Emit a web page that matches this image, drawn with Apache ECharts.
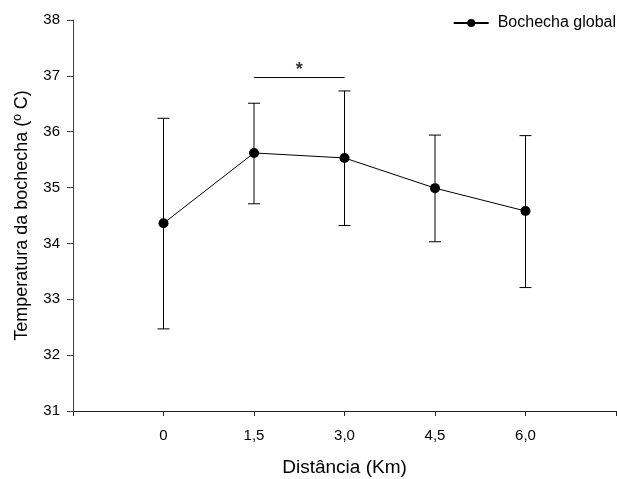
<!DOCTYPE html>
<html>
<head>
<meta charset="utf-8">
<script src="https://cdn.jsdelivr.net/npm/echarts@6/dist/echarts.min.js"></script>
<style>
  html, body { margin: 0; padding: 0; background: #fff; }
  #chart { width: 617px; height: 479px; }
</style>
</head>
<body>
<div id="chart"></div>
<script>
// distancias (km) e temperatura media com erro
var distancias = [0, 1.5, 3.0, 4.5, 6.0];
var medias = [34.36, 35.62, 35.53, 34.99, 34.58];
var superior = [36.24, 36.51, 36.73, 35.94, 35.93];
var inferior = [32.47, 34.71, 34.32, 34.03, 33.21];
// barra de significancia entre 1,5 e 3,0
var sigX = [1.5, 3.0];
var sigY = 36.97;

var pontos = [];
var erros = [];
for (var i = 0; i < distancias.length; i++) {
  pontos.push([distancias[i], medias[i]]);
  erros.push([distancias[i], inferior[i], superior[i]]);
}

var myChart = echarts.init(document.getElementById('chart'));
var fonte = 'Liberation Sans, Arial, sans-serif';

var option = {
  animation: false,
  grid: { left: 73, right: 1, top: 20, bottom: 68, outerBoundsMode: 'none' },
  legend: {
    right: 1,
    top: 15,
    padding: 0,
    itemWidth: 35,
    itemHeight: 10,
    data: ['Bochecha global'],
    textStyle: { fontFamily: fonte, fontSize: 16, color: '#000', padding: [0, 0, 0, 4] }
  },
  xAxis: {
    type: 'value',
    min: -1.5,
    max: 7.5,
    interval: 1.5,
    name: 'Distância (Km)',
    nameLocation: 'middle',
    nameGap: 47,
    nameTextStyle: { fontFamily: fonte, fontSize: 19, color: '#000' },
    axisLine: { lineStyle: { color: '#222', width: 1 } },
    axisTick: { length: 5, lineStyle: { color: '#222' } },
    splitLine: { show: false },
    axisLabel: {
      margin: 17,
      fontFamily: fonte,
      fontSize: 15,
      color: '#000',
      formatter: function (v) {
        if (v < 0 || v > 6) return '';
        if (v === 0) return '0';
        return v.toFixed(1).replace('.', ',');
      }
    }
  },
  yAxis: {
    type: 'value',
    min: 31,
    max: 38,
    interval: 1,
    name: 'Temperatura da bochecha (º C)',
    nameLocation: 'middle',
    nameGap: 42,
    nameTextStyle: { fontFamily: fonte, fontSize: 18, color: '#000' },
    axisLine: { show: true, onZero: false, lineStyle: { color: '#444', width: 1 } },
    axisTick: { show: true, length: 6, lineStyle: { color: '#444' } },
    splitLine: { show: false },
    axisLabel: { margin: 13, fontFamily: fonte, fontSize: 15, color: '#000' }
  },
  series: [
    {
      type: 'custom',
      name: 'erro',
      data: erros,
      z: 1,
      renderItem: function (params, api) {
        var x = api.value(0);
        var baixo = api.coord([x, api.value(1)]);
        var alto = api.coord([x, api.value(2)]);
        var w = 6;
        var st = { stroke: '#000', lineWidth: 1 };
        return {
          type: 'group',
          children: [
            { type: 'line', shape: { x1: alto[0], y1: alto[1], x2: baixo[0], y2: baixo[1] }, style: st },
            { type: 'line', shape: { x1: alto[0] - w, y1: alto[1], x2: alto[0] + w, y2: alto[1] }, style: st },
            { type: 'line', shape: { x1: baixo[0] - w, y1: baixo[1], x2: baixo[0] + w, y2: baixo[1] }, style: st }
          ]
        };
      }
    },
    {
      type: 'line',
      name: 'Bochecha global',
      data: pontos,
      z: 3,
      symbol: 'circle',
      symbolSize: 10,
      itemStyle: { color: '#000' },
      lineStyle: { color: '#000', width: 1 }
    },
    {
      type: 'line',
      name: 'sig',
      data: [[sigX[0], sigY], [sigX[1], sigY]],
      symbol: 'none',
      lineStyle: { color: '#000', width: 1 },
      silent: true
    },
    {
      type: 'scatter',
      name: 'asterisco',
      data: [[(sigX[0] + sigX[1]) / 2, sigY]],
      symbolSize: 0,
      silent: true,
      label: {
        show: true,
        position: 'top',
        distance: -1,
        formatter: '*',
        fontFamily: fonte,
        fontSize: 18,
        fontWeight: 'bold',
        color: '#000'
      }
    }
  ]
};

myChart.setOption(option);
</script>
</body>
</html>
